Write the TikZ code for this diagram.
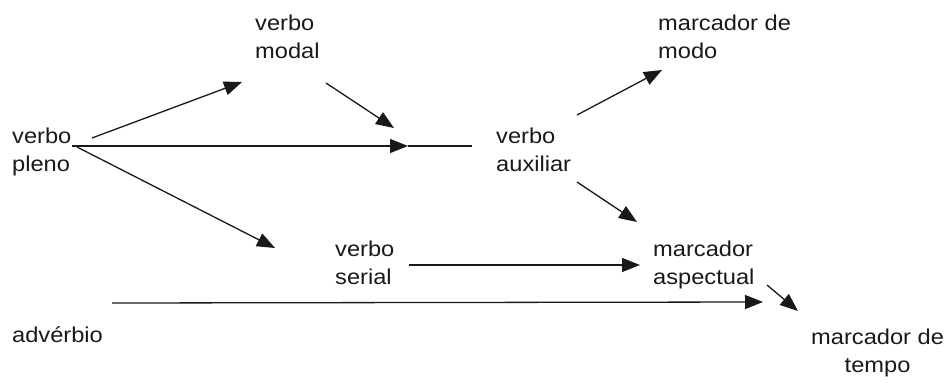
\documentclass[tikz,border=0pt]{standalone}
\usepackage{fontspec}
\setmainfont{Liberation Sans}[FakeStretch=1.1]
\usetikzlibrary{arrows.meta}

\tikzset{
  lbl/.style={anchor=base west, inner sep=0pt, align=left,
              font=\fontsize{21.5}{28}\selectfont, text=black!90},
  link/.style={line width=1.3pt, draw=black!90},
  path/.style={link, -{Triangle[length=18pt,width=14pt]}},
}

\begin{document}
\begin{tikzpicture}[x=1pt, y=-1pt]
  \useasboundingbox (0,0) rectangle (951,383);

  % categories (anchored at the baseline of the last line)
  \node[lbl] (pleno)  at (12,171)  {verbo\\pleno};
  \node[lbl] (modal)  at (255,58)  {verbo\\modal};
  \node[lbl] (aux)    at (496,171) {verbo\\auxiliar};
  \node[lbl] (modo)   at (658,58)  {marcador de\\modo};
  \node[lbl] (serial) at (335,284) {verbo\\serial};
  \node[lbl] (aspect) at (653,284) {marcador\\aspectual};
  \node[lbl] (adv)    at (12,342)  {advérbio};
  \node[lbl, align=center] (tempo) at (811,372) {marcador de\\tempo};

  % connector end points
  \coordinate (p1) at (92,138);   \coordinate (m1) at (242,82);
  \coordinate (m2) at (326,83);   \coordinate (a1) at (394,128);
  \coordinate (p2) at (72,146);   \coordinate (a2) at (408,146);
  \coordinate (a3) at (472,146);
  \coordinate (p3) at (77,147);   \coordinate (s1) at (275,248);
  \coordinate (x1) at (577,115);  \coordinate (o1) at (662,70);
  \coordinate (x2) at (577,182);  \coordinate (k1) at (637,222);
  \coordinate (s2) at (409,265);  \coordinate (k2) at (640,265);
  \coordinate (d1) at (112,303);  \coordinate (t1) at (763,302);
  \coordinate (k3) at (767,285);  \coordinate (t2) at (798,311);

  % paths
  \draw[path] (p1) -- (m1);
  \draw[path] (m2) -- (a1);
  \draw[path] (p2) -- (a2);
  \draw[link] (a2) -- (a3);
  \draw[path] (p3) -- (s1);
  \draw[path] (x1) -- (o1);
  \draw[path] (x2) -- (k1);
  \draw[path] (s2) -- (k2);
  \draw[path] (d1) -- (t1);
  \draw[path] (k3) -- (t2);
\end{tikzpicture}
\end{document}
